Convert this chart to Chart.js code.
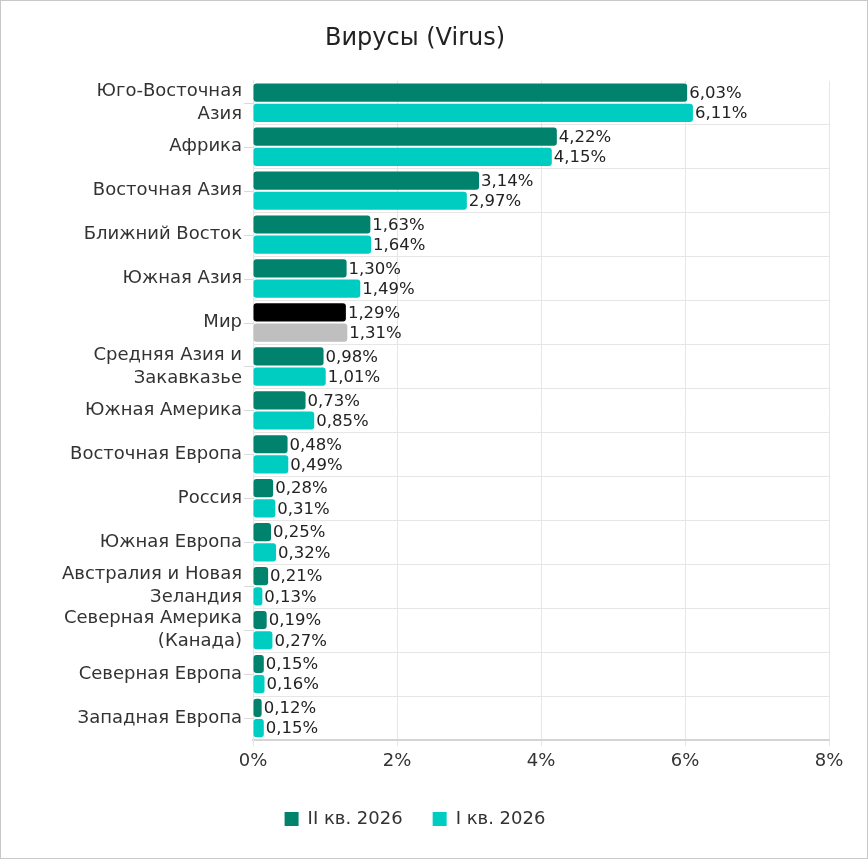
<!DOCTYPE html>
<html>
<head>
<meta charset="utf-8">
<script src="https://cdn.jsdelivr.net/npm/chart.js@4"></script>
<style>
  html, body { margin: 0; padding: 0; background: #fff; }
  #wrap { width: 868px; height: 859px; box-sizing: border-box; border: 1px solid #c8c8c8; }
</style>
</head>
<body>
<div id="wrap"><canvas id="virusChart"></canvas></div>
<script>
const regions = [
    ["Юго-Восточная", "Азия"],
    "Африка",
    "Восточная Азия",
    "Ближний Восток",
    "Южная Азия",
    "Мир",
    ["Средняя Азия и", "Закавказье"],
    "Южная Америка",
    "Восточная Европа",
    "Россия",
    "Южная Европа",
    ["Австралия и Новая", "Зеландия"],
    ["Северная Америка", "(Канада)"],
    "Северная Европа",
    "Западная Европа",
];
const q2Values = [6.03, 4.22, 3.14, 1.63, 1.30, 1.29, 0.98, 0.73, 0.48, 0.28, 0.25, 0.21, 0.19, 0.15, 0.12];
const q1Values = [6.11, 4.15, 2.97, 1.64, 1.49, 1.31, 1.01, 0.85, 0.49, 0.31, 0.32, 0.13, 0.27, 0.16, 0.15];
const xTicks = [0, 2, 4, 6, 8];

const darkTeal = "#00826d";
const lightTeal = "#00cdc1";
const worldIndex = regions.indexOf("Мир");
const fontName = "'DejaVu Sans'";

const fmt = (v) => v.toFixed(2).replace(".", ",") + "%";

// подписи значений у конца столбцов + короткие засечки по центру категорий
const valueLabels = {
    id: "valueLabels",
    afterDatasetsDraw(chart) {
        const ctx = chart.ctx;
        const yScale = chart.scales.y;
        const left = chart.chartArea.left;
        ctx.save();
        ctx.strokeStyle = "#d9d9d9";
        ctx.lineWidth = 1;
        yScale.ticks.forEach((t, i) => {
            const y = Math.round(yScale.getPixelForTick(i)) + 0.5;
            ctx.beginPath();
            ctx.moveTo(left - 9, y);
            ctx.lineTo(left, y);
            ctx.stroke();
        });
        ctx.font = "16.5px " + fontName;
        ctx.fillStyle = "#222";
        ctx.textBaseline = "middle";
        ctx.textAlign = "left";
        chart.data.datasets.forEach((ds, i) => {
            chart.getDatasetMeta(i).data.forEach((bar, j) => {
                ctx.fillText(fmt(ds.data[j]), bar.x + 2, bar.y + 1);
            });
        });
        ctx.restore();
    },
};

new Chart(document.getElementById("virusChart"), {
    type: "bar",
    data: {
        labels: regions,
        datasets: [
            {
                label: "II кв. 2026",
                data: q2Values,
                backgroundColor: q2Values.map((v, i) => (i === worldIndex ? "#000000" : darkTeal)),
                borderRadius: 3,
                borderSkipped: false,
                categoryPercentage: 0.92,
                barPercentage: 0.9,
            },
            {
                label: "I кв. 2026",
                data: q1Values,
                backgroundColor: q1Values.map((v, i) => (i === worldIndex ? "#bfbfbf" : lightTeal)),
                borderRadius: 3,
                borderSkipped: false,
                categoryPercentage: 0.92,
                barPercentage: 0.9,
            },
        ],
    },
    options: {
        indexAxis: "y",
        responsive: true,
        maintainAspectRatio: false,
        animation: false,
        layout: {
            padding: { left: 0, right: 38, top: 14, bottom: 20 },
        },
        scales: {
            x: {
                min: 0,
                max: 8,
                afterBuildTicks: (axis) => {
                    axis.ticks = xTicks.map((v) => ({ value: v }));
                },
                afterFit: (axis) => {
                    axis.height = 40;
                },
                grid: {
                    color: "#e6e6e6",
                    tickLength: 6,
                },
                border: { color: "#d4d4d4", width: 2 },
                ticks: {
                    color: "#333",
                    font: { family: fontName, size: 18 },
                    padding: 5,
                    callback: (v) => v + "%",
                },
            },
            y: {
                afterFit: (axis) => {
                    axis.width = 252;
                },
                grid: {
                    offset: true,
                    color: (c) => (c.index === 0 ? "rgba(0,0,0,0)" : "#e6e6e6"),
                    drawTicks: false,
                },
                border: { color: "#e6e6e6" },
                ticks: {
                    color: "#333",
                    font: { family: fontName, size: 18, lineHeight: 1.28 },
                    padding: 11,
                    autoSkip: false,
                },
            },
        },
        plugins: {
            title: {
                display: true,
                text: "Вирусы (Virus)",
                color: "#222",
                font: { family: fontName, size: 24, weight: "normal" },
                padding: { top: 9, bottom: 28 },
            },
            legend: {
                position: "bottom",
                labels: {
                    color: "#333",
                    font: { family: fontName, size: 18 },
                    boxWidth: 14,
                    boxHeight: 14,
                    padding: 30,
                },
            },
            tooltip: { enabled: false },
        },
    },
    plugins: [valueLabels],
});
</script>
</body>
</html>
